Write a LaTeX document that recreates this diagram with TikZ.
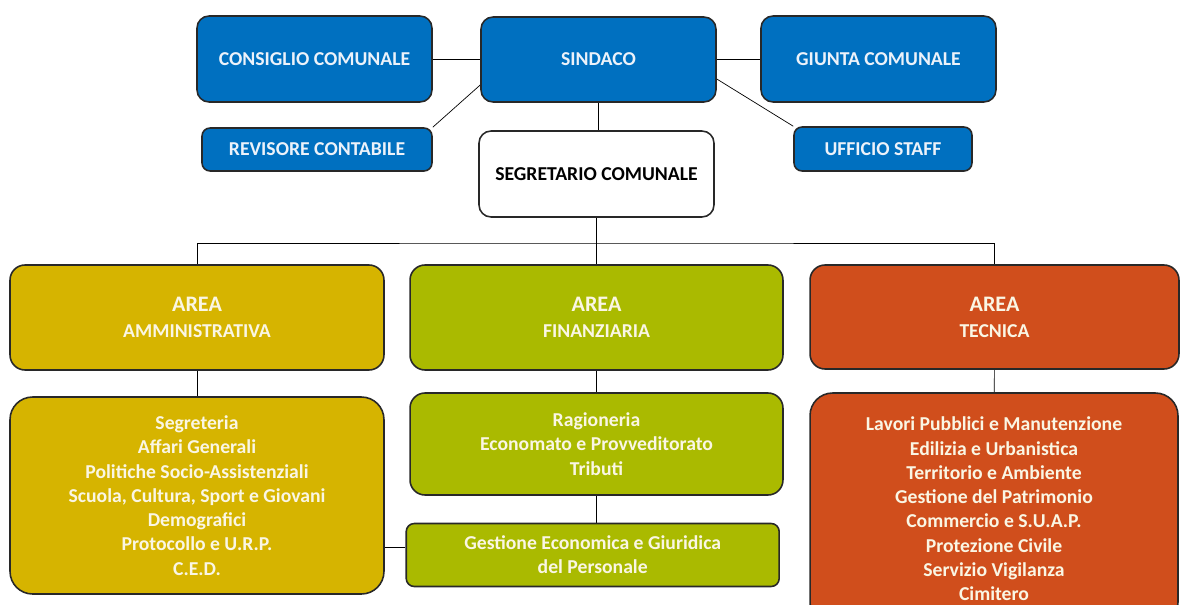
\documentclass[tikz,border=0pt]{standalone}
\usepackage{fontspec}
\setmainfont{Carlito}
\usepackage{tikz}
\usetikzlibrary{calc,backgrounds}

\definecolor{comblue}{RGB}{0,112,192}
\definecolor{ammcol}{RGB}{214,180,0}
\definecolor{fincol}{RGB}{170,186,0}
\definecolor{teccol}{RGB}{208,78,28}
\definecolor{boxline}{RGB}{40,40,40}
\definecolor{lighttext}{RGB}{250,246,228}
\definecolor{bluetext}{RGB}{236,242,250}

\tikzset{
  box/.style={draw=boxline, line width=0.9pt, align=center, inner sep=2pt,
    font=\bfseries\fontsize{11.2}{13.8}\selectfont},
  bluebox/.style={box, fill=comblue, text=bluetext, rounded corners=0.24cm},
  smallblue/.style={box, fill=comblue, text=bluetext, rounded corners=0.16cm},
  whitebox/.style={box, fill=white, text=black, rounded corners=0.24cm},
  areabox/.style={box, text=lighttext, rounded corners=0.3cm,
    minimum width=7.46cm, minimum height=2.1cm,
    font=\bfseries\fontsize{11.2}{14.7}\selectfont},
  listbox/.style={box, text=lighttext, rounded corners=0.45cm},
  link/.style={line width=1.5pt, black}
}

\begin{document}
\begin{tikzpicture}[x=0.02cm,y=-0.02cm]
  \useasboundingbox (0,0) rectangle (1180,605);
  \clip (0,0) rectangle (1180,605);

  % organi
  \node[bluebox, minimum width=4.7cm, minimum height=1.72cm] (consiglio) at (314.5,59) {CONSIGLIO COMUNALE};
  \node[bluebox, minimum width=4.7cm, minimum height=1.7cm] (sindaco) at (598.5,59.5) {SINDACO};
  \node[bluebox, minimum width=4.7cm, minimum height=1.72cm] (giunta) at (878.5,59) {GIUNTA COMUNALE};
  \node[smallblue, minimum width=4.6cm, minimum height=0.86cm] (revisore) at (317,149.5) {REVISORE CONTABILE};
  \node[whitebox, minimum width=4.7cm, minimum height=1.72cm] (segretario) at (596.5,174) {SEGRETARIO COMUNALE};
  \node[smallblue, minimum width=3.56cm, minimum height=0.88cm] (staff) at (883,149) {UFFICIO STAFF};

  % aree
  \node[areabox, fill=ammcol, minimum width=7.48cm] (amm) at (197,317.5)
    {{\fontsize{12.6}{14.7}\selectfont AREA}\\AMMINISTRATIVA};
  \node[areabox, fill=fincol] (fin) at (596.5,317.5)
    {{\fontsize{12.6}{14.7}\selectfont AREA}\\FINANZIARIA};
  \node[areabox, fill=teccol, minimum width=7.38cm, minimum height=2.08cm] (tec) at (994.5,317)
    {{\fontsize{12.6}{14.7}\selectfont AREA}\\TECNICA};

  % servizi
  \node[listbox, fill=ammcol, minimum width=7.48cm, minimum height=3.94cm] (ammlist) at (197,495.5)
    {Segreteria\\Affari Generali\\Politiche Socio-Assistenziali\\Scuola, Cultura, Sport e Giovani\\
     Demografici\\Protocollo e U.R.P.\\C.E.D.};
  \node[listbox, fill=fincol, rounded corners=0.3cm, minimum width=7.46cm, minimum height=2.04cm] (finlist) at (596.5,444)
    {Ragioneria\\Economato e Provveditorato\\Tributi};
  \node[listbox, fill=fincol, rounded corners=0.16cm, minimum width=7.46cm, minimum height=1.26cm] (personale) at (592.7,555)
    {Gestione Economica e Giuridica\\del Personale};
  \node[listbox, fill=teccol, minimum width=7.36cm, minimum height=4.64cm] (teclist) at (994,509)
    {Lavori Pubblici e Manutenzione\\Edilizia e Urbanistica\\Territorio e Ambiente\\Gestione del Patrimonio\\
     Commercio e S.U.A.P.\\Protezione Civile\\Servizio Vigilanza\\Cimitero};

  \coordinate (bus) at (597,243);

  \begin{scope}[on background layer, link]
    \draw (consiglio.east) -- (consiglio.east -| sindaco.west);
    \draw (sindaco.east) -- (sindaco.east -| giunta.west);
    \draw ([yshift=-0.51cm]sindaco.west) -- (revisore.north east);
    \draw ([yshift=-0.39cm]sindaco.east) -- (staff.north west);
    \draw (sindaco.south) -- (sindaco.south |- segretario.north);
    \draw (segretario.south) -- (fin.north);
    \draw (amm.north) |- (bus) -| (tec.north);
    \draw (amm) -- (ammlist);
    \draw (fin) -- (finlist);
    \draw (tec) -- (teclist);
    \draw (finlist.south) -- (finlist.south |- personale.north);
    \draw ([yshift=0.16cm]personale.west) -- ([yshift=0.16cm]personale.west -| ammlist.east);
  \end{scope}
\end{tikzpicture}
\end{document}
